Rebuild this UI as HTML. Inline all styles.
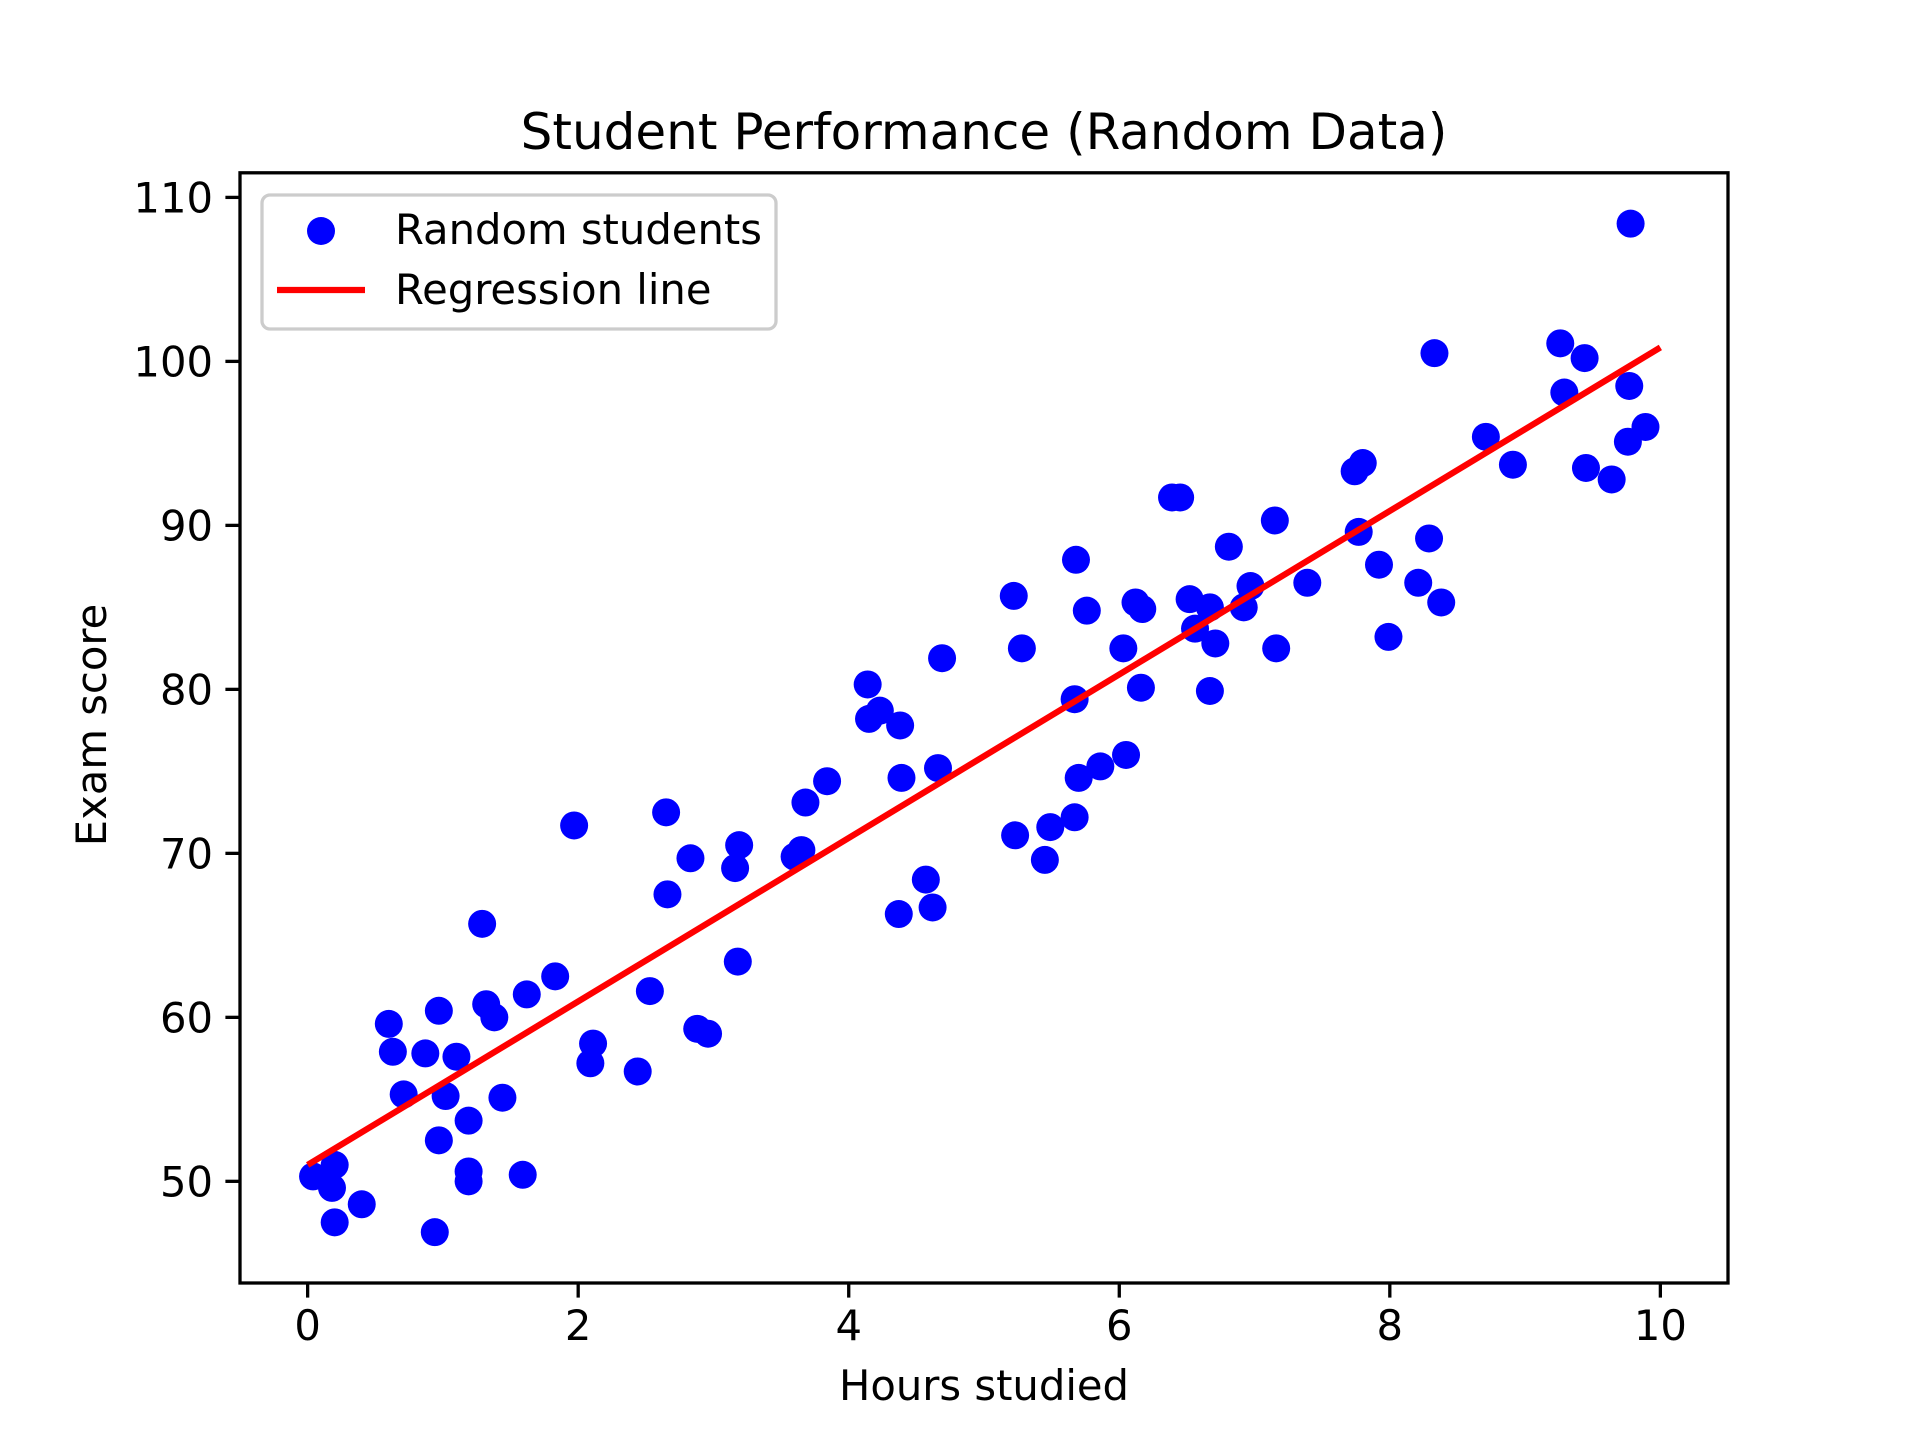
<!DOCTYPE html>
<html><head><meta charset="utf-8"><style>
html,body{margin:0;padding:0;background:#fff;}
svg{display:block;font-family:"DejaVu Sans","Liberation Sans",sans-serif;}
</style></head><body>
<svg id="chart" width="1920" height="1440" viewBox="0 0 1920 1440">
<rect width="1920" height="1440" fill="#fff"/>
<text x="984" y="149" font-size="50" text-anchor="middle">Student Performance (Random Data)</text>
<g id="plot"></g>
<rect x="240" y="172.8" width="1488" height="1110.2" fill="none" stroke="#000" stroke-width="3.3"/>
<text x="984" y="1400" font-size="41.7" text-anchor="middle">Hours studied</text>
<text transform="translate(106,725) rotate(-90)" font-size="41.7" text-anchor="middle">Exam score</text>
<g>
<rect x="262" y="195" width="514" height="134" rx="8" fill="#fff" fill-opacity="0.8" stroke="#ccc" stroke-width="3.3"/>
<circle cx="321" cy="231" r="14" fill="#0000ff"/>
<text x="395" y="244" font-size="41.7">Random students</text>
<line x1="277" y1="290" x2="365" y2="290" stroke="#ff0000" stroke-width="6.25"/>
<text x="395" y="304" font-size="41.7">Regression line</text>
</g>
</svg>
<script>
const xTicks=[0,2,4,6,8,10];
const yTicks=[50,60,70,80,90,100,110];
const hours=[0.04,0.2,0.18,0.2,0.4,0.6,0.63,0.71,0.87,0.97,0.97,0.94,1.02,1.1,1.19,1.19,1.19,1.29,1.32,1.38,1.44,1.59,1.62,1.83,1.97,2.11,2.09,2.44,2.53,2.65,2.66,2.83,2.88,2.96,3.16,3.19,3.18,3.6,3.65,3.68,3.84,4.14,4.15,4.23,4.38,4.39,4.37,4.57,4.62,4.66,4.69,5.22,5.28,5.23,5.45,5.49,5.67,5.68,5.67,5.7,5.76,5.86,6.03,6.05,6.12,6.17,6.16,6.39,6.45,6.52,6.56,6.67,6.71,6.67,6.81,6.92,6.97,7.15,7.16,7.39,7.74,7.8,7.77,7.92,7.99,8.21,8.29,8.33,8.38,8.71,8.91,9.26,9.29,9.44,9.45,9.64,9.76,9.77,9.89,9.78];
const scores=[50.3,51.0,49.6,47.5,48.6,59.6,57.9,55.3,57.8,60.4,52.5,46.9,55.2,57.6,53.7,50.6,50.0,65.7,60.8,60.0,55.1,50.4,61.4,62.5,71.7,58.4,57.2,56.7,61.6,72.5,67.5,69.7,59.3,59.0,69.1,70.5,63.4,69.8,70.2,73.1,74.4,80.3,78.2,78.7,77.8,74.6,66.3,68.4,66.7,75.2,81.9,85.7,82.5,71.1,69.6,71.6,72.2,87.9,79.4,74.6,84.8,75.3,82.5,76.0,85.3,84.9,80.1,91.7,91.7,85.5,83.7,85.0,82.8,79.9,88.7,85.0,86.3,90.3,82.5,86.5,93.3,93.8,89.6,87.6,83.2,86.5,89.2,100.5,85.3,95.4,93.7,101.1,98.1,100.2,93.5,92.8,95.1,98.5,96.0,108.4];
const lineX=[0,10];
const lineY=[51.0,100.85];
const NS='http://www.w3.org/2000/svg';
const X0=240,X1=1728,Y0=172.8,Y1=1283,xmin=-0.5,xmax=10.5,ymin=43.8,ymax=111.5;
const sx=v=>X0+(v-xmin)/(xmax-xmin)*(X1-X0);
const sy=v=>Y1-(v-ymin)/(ymax-ymin)*(Y1-Y0);
const g=document.getElementById('plot');
function mk(t,a){const e=document.createElementNS(NS,t);for(const k in a)e.setAttribute(k,a[k]);g.appendChild(e);return e;}
xTicks.forEach(t=>{
 const l=mk('line',{x1:sx(t),x2:sx(t),y1:Y1,y2:Y1+14.6,stroke:'#000','stroke-width':3.3});
 
 
 const tx=mk('text',{x:sx(t),y:Y1+57,'font-size':41.7,'text-anchor':'middle'});tx.textContent=t;
 
 
});
yTicks.forEach(t=>{
 const l=mk('line',{x1:X0-14.6,x2:X0,y1:sy(t),y2:sy(t),stroke:'#000','stroke-width':3.3});
 
 
 const tx=mk('text',{x:X0-27,y:sy(t)+15,'font-size':41.7,'text-anchor':'end'});tx.textContent=t;
 
 
});
hours.forEach((h,i)=>{
 const c=mk('circle',{cx:sx(h),cy:sy(scores[i]),r:14,fill:'#0000ff'});
 
 
});
const rl=mk('line',{x1:sx(lineX[0]),y1:sy(lineY[0]),x2:sx(lineX[1]),y2:sy(lineY[1]),stroke:'#ff0000','stroke-width':6.25});


</script>
</body></html>
